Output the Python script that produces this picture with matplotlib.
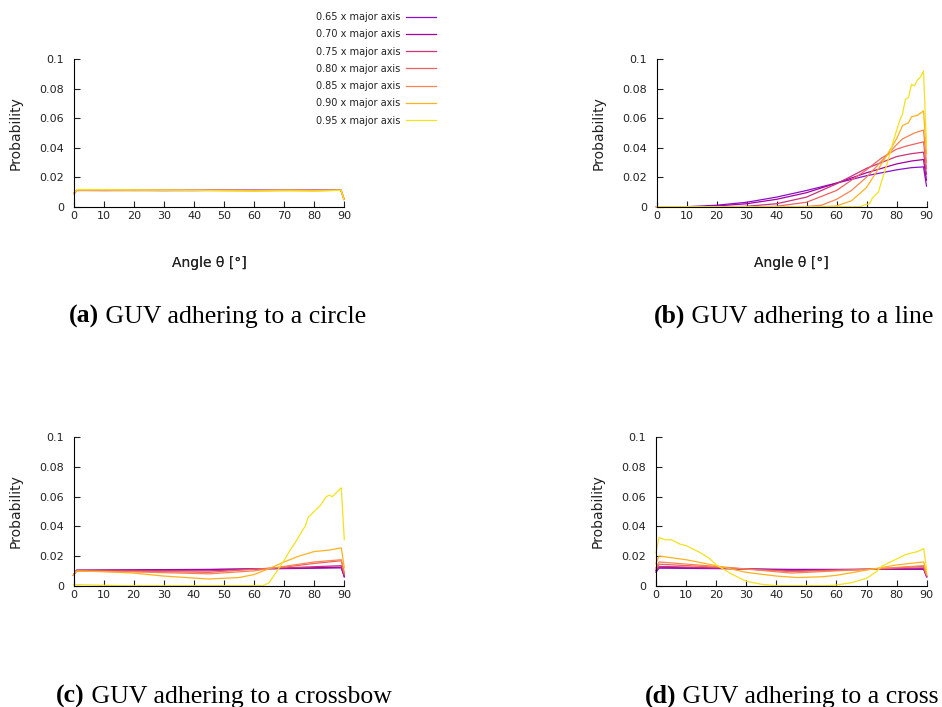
import numpy as np
import matplotlib
matplotlib.use("Agg")
import matplotlib.pyplot as plt

W, H = 942, 707

labels = ["0.65 x major axis", "0.70 x major axis", "0.75 x major axis",
          "0.80 x major axis", "0.85 x major axis", "0.90 x major axis",
          "0.95 x major axis"]
colors = ["#8a10c8", "#a8009e", "#c8347a", "#ee6262", "#f8844e", "#ffb21e", "#f4e21c"]

# (a) circle: flat for every ratio
a_x = [0, 1, 10, 20, 30, 40, 50, 60, 70, 80, 89, 90]
a_vals = [
    [0.009, 0.0110, 0.0110, 0.0110, 0.0110, 0.0110, 0.0111, 0.0111, 0.0111, 0.0111, 0.0111, 0.005],
    [0.009, 0.0111, 0.0110, 0.0111, 0.0110, 0.0111, 0.0110, 0.0111, 0.0110, 0.0111, 0.0111, 0.005],
    [0.009, 0.0112, 0.0111, 0.0110, 0.0111, 0.0110, 0.0111, 0.0110, 0.0111, 0.0110, 0.0111, 0.005],
    [0.009, 0.0111, 0.0112, 0.0111, 0.0110, 0.0111, 0.0111, 0.0109, 0.0111, 0.0111, 0.0111, 0.005],
    [0.009, 0.0113, 0.0111, 0.0112, 0.0111, 0.0110, 0.0112, 0.0110, 0.0111, 0.0110, 0.0111, 0.005],
    [0.009, 0.0112, 0.0113, 0.0111, 0.0112, 0.0111, 0.0110, 0.0108, 0.0112, 0.0109, 0.0112, 0.005],
    [0.009, 0.0117, 0.0116, 0.0114, 0.0112, 0.0111, 0.0108, 0.0106, 0.0108, 0.0106, 0.0111, 0.005],
]

# (b) line
b_series = [
    ([0, 10, 20, 30, 40, 50, 60, 70, 80, 85, 89, 90],
     [0, 0, 0.001, 0.003, 0.0065, 0.011, 0.016, 0.021, 0.025, 0.0265, 0.027, 0.014]),
    ([0, 15, 20, 30, 40, 50, 60, 70, 80, 85, 89, 90],
     [0, 0, 0.0005, 0.002, 0.005, 0.0095, 0.016, 0.023, 0.029, 0.031, 0.032, 0.018]),
    ([0, 25, 30, 40, 50, 60, 70, 75, 80, 85, 89, 90],
     [0, 0, 0.0003, 0.002, 0.0065, 0.0155, 0.026, 0.030, 0.034, 0.036, 0.037, 0.022]),
    ([0, 35, 40, 50, 60, 65, 70, 75, 80, 83, 85, 89, 90],
     [0, 0, 0.0003, 0.003, 0.011, 0.018, 0.025, 0.033, 0.039, 0.041, 0.042, 0.044, 0.026]),
    ([0, 45, 50, 55, 60, 65, 70, 75, 80, 82, 83, 86, 89, 90],
     [0, 0, 0.0002, 0.001, 0.005, 0.011, 0.020, 0.031, 0.042, 0.046, 0.047, 0.050, 0.052, 0.030]),
    ([0, 55, 60, 65, 70, 75, 78, 80, 82, 84, 85, 87, 89, 90],
     [0, 0, 0.0005, 0.004, 0.013, 0.029, 0.039, 0.046, 0.055, 0.057, 0.061, 0.062, 0.065, 0.036]),
    ([0, 61, 68, 69, 71, 72, 74, 75, 77, 79, 81, 82, 83, 84, 85, 86, 87, 88, 89, 90],
     [0, 0, 0, 0.001, 0.002, 0.006, 0.010, 0.017, 0.030, 0.045, 0.058, 0.063, 0.073, 0.074, 0.083, 0.082, 0.086, 0.088, 0.092, 0.042]),
]

# (c) crossbow
c_series = [
    ([0, 1, 20, 45, 70, 89, 90], [0.007, 0.0105, 0.0107, 0.0110, 0.0115, 0.0120, 0.006]),
    ([0, 1, 20, 45, 70, 89, 90], [0.007, 0.0103, 0.0105, 0.0108, 0.0117, 0.0125, 0.006]),
    ([0, 1, 20, 45, 70, 89, 90], [0.007, 0.0102, 0.0100, 0.0100, 0.0120, 0.0135, 0.007]),
    ([0, 1, 20, 45, 70, 80, 89, 90], [0.007, 0.0100, 0.0097, 0.0090, 0.0125, 0.0150, 0.0168, 0.008]),
    ([0, 1, 20, 45, 60, 70, 80, 89, 90], [0.007, 0.0098, 0.0093, 0.0080, 0.0100, 0.0130, 0.0160, 0.0175, 0.009]),
    ([0, 1, 10, 20, 30, 45, 55, 60, 65, 70, 75, 80, 85, 89, 90],
     [0.007, 0.0098, 0.0095, 0.0085, 0.0065, 0.0045, 0.0055, 0.0075, 0.0115, 0.016, 0.020, 0.023, 0.024, 0.0255, 0.012]),
    ([0, 1, 10, 17, 63, 65, 67, 70, 72, 74, 76, 77, 78, 80, 82, 84, 85, 86, 88, 89, 90],
     [0.0007, 0.0007, 0.0003, 0, 0, 0.002, 0.008, 0.017, 0.024, 0.030, 0.037, 0.040, 0.046, 0.050, 0.054, 0.060, 0.061, 0.060, 0.064, 0.066, 0.031]),
]

# (d) cross
d_series = [
    ([0, 1, 20, 45, 70, 89, 90], [0.009, 0.0118, 0.0115, 0.0110, 0.0110, 0.0110, 0.006]),
    ([0, 1, 20, 45, 70, 89, 90], [0.010, 0.0125, 0.0118, 0.0105, 0.0110, 0.0115, 0.006]),
    ([0, 1, 20, 45, 70, 89, 90], [0.010, 0.0130, 0.0120, 0.0100, 0.0110, 0.0120, 0.006]),
    ([0, 1, 20, 45, 70, 89, 90], [0.011, 0.0145, 0.0125, 0.0095, 0.0110, 0.0130, 0.007]),
    ([0, 1, 20, 45, 70, 89, 90], [0.012, 0.0160, 0.0130, 0.0085, 0.0110, 0.0135, 0.007]),
    ([0, 1, 10, 20, 30, 40, 47, 55, 60, 70, 80, 89, 90],
     [0.015, 0.020, 0.0175, 0.0135, 0.009, 0.0065, 0.0055, 0.006, 0.007, 0.0105, 0.014, 0.016, 0.008]),
    ([0, 1, 3, 5, 8, 10, 15, 18, 20, 25, 30, 35, 40, 50, 57, 60, 65, 70, 73, 75, 78, 80, 83, 85, 87, 89, 90],
     [0.022, 0.0325, 0.031, 0.031, 0.028, 0.027, 0.022, 0.018, 0.014, 0.008, 0.003, 0.001, 0, 0, 0, 0.0005, 0.002, 0.005, 0.009, 0.013, 0.016, 0.018, 0.021, 0.022, 0.023, 0.025, 0.0105]),
]

fig = plt.figure(figsize=(W / 100, H / 100), dpi=100)


def px_axes(x0, x1, ytop, ybot):
    return fig.add_axes([x0 / W, 1 - ybot / H, (x1 - x0) / W, (ybot - ytop) / H])


def style(ax, x0, x1, ytop, ybot):
    ax.set_xlim(0, 90)
    ax.set_ylim(0, 0.1)
    ax.set_xticks(np.arange(0, 91, 10))
    ax.set_yticks([0, 0.02, 0.04, 0.06, 0.08, 0.1])
    ax.set_yticklabels(["0", "0.02", "0.04", "0.06", "0.08", "0.1"])
    for s in ["top", "right"]:
        ax.spines[s].set_visible(False)
    for s in ["left", "bottom"]:
        ax.spines[s].set_linewidth(0.8)
    ax.tick_params(direction="in", length=4, width=0.8, labelsize=8, colors="#222222")
    ax.tick_params(axis="y", pad=7)
    ax.tick_params(axis="x", pad=3)
    ax.set_ylabel("Probability", fontsize=10, color="#222222")
    ax.set_xlabel("Angle θ [°]", fontsize=10, color="#222222")
    w, h = x1 - x0, ybot - ytop
    # label positions relative to each panel, in pixels
    ax.yaxis.set_label_coords(-51 / w, 0.5)
    ax.xaxis.set_label_coords(0.5, (ybot - 256) / h)


boxes = [(74, 344, 59.3, 206.7), (656.5, 926.5, 59.3, 206.7),
         (73.5, 344.3, 437.3, 585.7), (656, 926.7, 437.3, 585.7)]
axes = [px_axes(*b) for b in boxes]

for i in range(7):
    axes[0].plot(a_x, a_vals[i], color=colors[i], lw=0.9, label=labels[i])
    axes[1].plot(*b_series[i], color=colors[i], lw=0.9)
    axes[2].plot(*c_series[i], color=colors[i], lw=0.9)
    axes[3].plot(*d_series[i], color=colors[i], lw=0.9)

for ax, b in zip(axes, boxes):
    style(ax, *b)
    for ln in ax.lines:
        ln.set_clip_on(False)

leg = fig.legend(*axes[0].get_legend_handles_labels(), loc="upper right",
                 bbox_to_anchor=(436 / W, 1 - 12 / H), frameon=False, markerfirst=False,
                 fontsize=7, handlelength=3.1, handletextpad=0.6, labelspacing=0.75,
                 borderaxespad=0, borderpad=0)
for t in leg.get_texts():
    t.set_color("#222222")

caps = [("(a)", " GUV adhering to a circle", 69, 323),
        ("(b)", " GUV adhering to a line", 654, 323),
        ("(c)", " GUV adhering to a crossbow", 56, 703),
        ("(d)", " GUV adhering to a cross", 645, 703)]
for tag, rest, x, y in caps:
    t = fig.text(x / W, 1 - y / H, tag, fontsize=18.5, fontweight="bold",
                 family="Liberation Serif", va="baseline", ha="left")
    fig.canvas.draw()
    bb = t.get_window_extent()
    fig.text(bb.x1 / W, 1 - y / H, rest, fontsize=18.5, family="Liberation Serif",
             va="baseline", ha="left")

fig.savefig("out.png", dpi=100)
